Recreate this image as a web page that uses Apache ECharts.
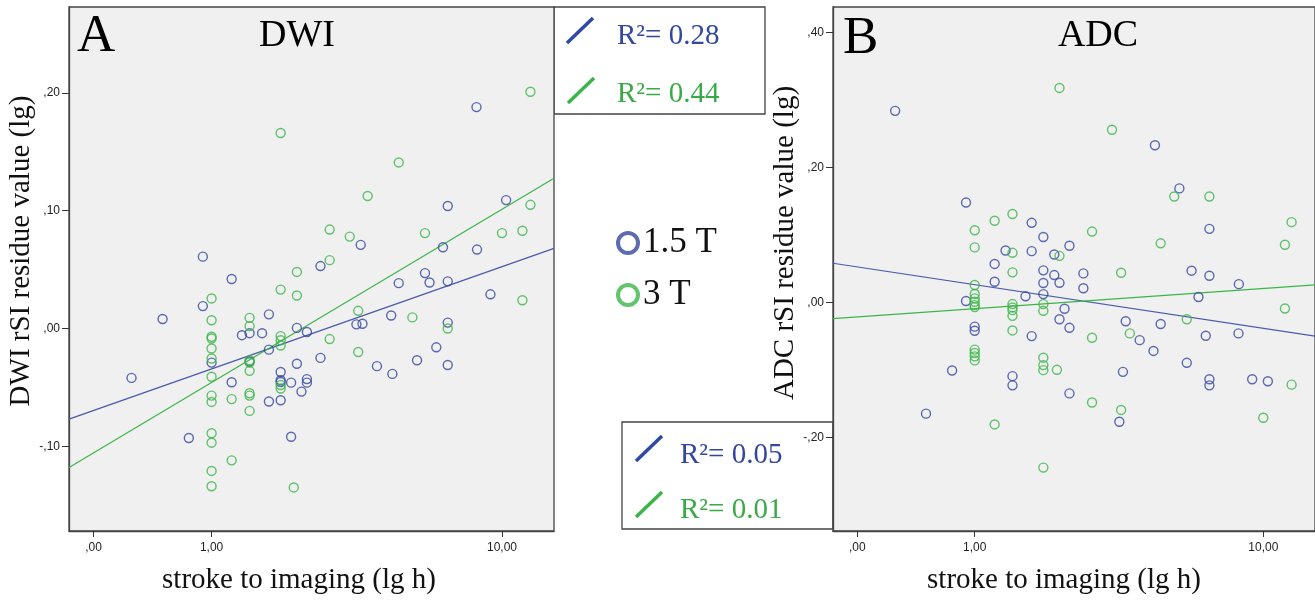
<!DOCTYPE html>
<html>
<head>
<meta charset="utf-8">
<title>DWI / ADC rSI residue vs stroke to imaging</title>
<script src="https://cdn.jsdelivr.net/npm/echarts@6/dist/echarts.min.js"></script>
<style>
  html, body { margin: 0; padding: 0; background: #fff; }
  #chart { width: 1315px; height: 601px; }
</style>
</head>
<body>
<div id="chart"></div>
<script>
// [hours from stroke to imaging, rSI residue value (lg)]
const dwi15 = [
  [8.47, 0.188], [10.27, 0.109], [7, 0.104], [3.8, 0.071], [6.78, 0.069], [8.5, 0.067],
  [0.9, 0.061], [2.79, 0.053], [1.25, 0.042], [6, 0.047], [6.19, 0.039], [7, 0.040],
  [5, 0.0385], [9.28, 0.029], [7, 0.005], [0.9, 0.019], [0.5, 0.008], [1.8, 0.012],
  [4.74, 0.011], [3.68, 0.0035], [3.85, 0.004], [2.3, 0.0005], [2.5, -0.003], [1.39, -0.0057],
  [1.5, -0.004], [1.69, -0.004], [1.8, -0.018], [1, -0.029], [1.5, -0.028], [2.79, -0.025],
  [2.3, -0.030], [6.48, -0.016], [5.68, -0.027], [4.28, -0.032], [4.78, -0.0386], [7, -0.031],
  [0.25, -0.042], [2, -0.037], [2, -0.044], [2, -0.0455], [2.5, -0.043], [2.5, -0.046],
  [2.19, -0.046], [1.25, -0.0457], [2.39, -0.0536], [1.8, -0.062], [2, -0.061], [0.75, -0.093],
  [2.19, -0.092]
];
const dwi3 = [
  [12, 0.201], [2, 0.166], [5, 0.141], [4, 0.1125], [12, 0.105], [3, 0.084], [3.5, 0.078],
  [6, 0.081], [10, 0.081], [11.4, 0.083], [3, 0.058], [2.3, 0.048], [2, 0.033], [2.3, 0.028],
  [1, 0.0255], [11.4, 0.024], [3.73, 0.015], [5.5, 0.0094], [1, 0.007], [1.5, 0.009],
  [1.5, 0.002], [7, 0.0], [1, -0.007], [1, -0.0085], [2, -0.0065], [2, -0.010], [2, -0.0145],
  [3, -0.009], [1, -0.017], [1, -0.0255], [1.5, -0.027], [1.5, -0.029], [3.73, -0.020],
  [1.5, -0.036], [1, -0.041], [2, -0.048], [2, -0.051], [1, -0.057], [1, -0.0624], [1.25, -0.060],
  [1.5, -0.055], [1.5, -0.057], [1.5, -0.070], [1, -0.089], [1, -0.097], [1.25, -0.112],
  [1, -0.121], [1, -0.134], [2.24, -0.135]
];
const adc15 = [
  [0.25, 0.284], [4.8, 0.233], [5.7, 0.169], [0.9, 0.148], [1.8, 0.118], [7, 0.109], [2, 0.097],
  [2.5, 0.084], [1.4, 0.077], [1.8, 0.076], [2.2, 0.071], [1.25, 0.057], [2, 0.0475], [2.2, 0.0405],
  [2.8, 0.043], [6.2, 0.047], [7, 0.0395], [1.25, 0.0306], [2, 0.0287], [2.3, 0.029], [2.8, 0.021],
  [8.52, 0.027], [1.7, 0.009], [2, 0.0123], [6.5, 0.008], [0.9, 0.002], [2.4, -0.0095], [1, -0.036],
  [1, -0.042], [2.3, -0.025], [2.5, -0.0377], [3.88, -0.028], [5, -0.032], [1.8, -0.050],
  [6.83, -0.0495], [8.5, -0.046], [4.3, -0.056], [4.75, -0.072], [6, -0.0896], [0.75, -0.101],
  [3.8, -0.103], [1.5, -0.1094], [1.5, -0.123], [7, -0.114], [7, -0.123], [9.3, -0.114],
  [10.3, -0.117], [2.5, -0.135], [0.5, -0.165], [3.7, -0.177]
];
const adc3 = [
  [2.3, 0.318], [3.5, 0.256], [5.5, 0.157], [7, 0.157], [12, 0.119], [11.5, 0.0855], [1.5, 0.131],
  [1.25, 0.121], [1, 0.107], [3, 0.105], [1, 0.0815], [1.5, 0.0735], [2.3, 0.069], [5, 0.0876],
  [1.5, 0.0445], [3.75, 0.044], [1, 0.0257], [1, 0.0125], [1, 0.006], [1, 0.001], [1, -0.004],
  [1, -0.007], [1.5, -0.0025], [1.5, -0.0075], [1.5, -0.0115], [1.5, -0.020], [2, -0.0025],
  [2, -0.0125], [11.5, -0.009], [6, -0.025], [1.5, -0.0416], [4, -0.046], [3, -0.0525],
  [1, -0.070], [1, -0.075], [1, -0.080], [1, -0.086], [2, -0.082], [2, -0.093], [2, -0.1005],
  [2.25, -0.100], [12, -0.122], [3, -0.1485], [3.75, -0.1595], [1.25, -0.181], [10, -0.171],
  [2, -0.245]
];

// fitted lines: value at left and right end of the x axis
const fitDwi15 = [-0.077, 0.068];
const fitDwi3 = [-0.118, 0.1275];
const fitAdc15 = [0.058, -0.050];
const fitAdc3 = [-0.024, 0.026];

const r2Dwi = ['R²= 0.28', 'R²= 0.44'];
const r2Adc = ['R²= 0.05', 'R²= 0.01'];

const xTicksHours = [0, 1, 10];
const yTicksDwi = [-0.1, 0, 0.1, 0.2];
const yTicksAdc = [-0.2, 0, 0.2, 0.4];

// SPSS "safe log" scale
const slog = h => Math.log10(1 + h);
const xMin = -0.0625, xMax = 1.174;

const BLUE = '#34469e';
const GREEN = '#3bb548';
const SERIF = 'Liberation Serif';

const spss = v => {
  const s = Math.abs(v).toFixed(2).replace('.', ',').replace(/^0,/, ',');
  return (v < -1e-9 ? '-' : '') + s;
};

const chart = echarts.init(document.getElementById('chart'));

const mkX = (idx, padRight) => ({
  type: 'value', gridIndex: idx, min: xMin, max: xMax,
  name: 'stroke to imaging (lg h)', nameLocation: 'middle', nameGap: 35,
  nameTextStyle: { fontFamily: SERIF, fontSize: 29, color: '#111', padding: [0, padRight, 0, 0] },
  axisLine: { onZero: false, lineStyle: { color: '#444', width: 1.3 } },
  axisTick: { customValues: xTicksHours.map(slog), length: 6, lineStyle: { color: '#333' } },
  axisLabel: {
    customValues: xTicksHours.map(slog), margin: 11,
    fontFamily: 'Liberation Sans', fontSize: 12, color: '#222',
    formatter: v => spss(Math.round((Math.pow(10, v) - 1) * 100) / 100)
  },
  splitLine: { show: false }
});

const mkY = (idx, min, max, ticks, name, padLeft) => ({
  type: 'value', gridIndex: idx, min: min, max: max,
  name: name, nameLocation: 'middle', nameGap: 28,
  nameTextStyle: { fontFamily: SERIF, fontSize: 29, color: '#111', padding: [0, 0, 0, padLeft] },
  axisLine: { show: true, onZero: false, lineStyle: { color: '#444', width: 1.3 } },
  axisTick: { show: true, customValues: ticks, length: 7, lineStyle: { color: '#333' } },
  axisLabel: {
    customValues: ticks, margin: 9,
    fontFamily: 'Liberation Sans', fontSize: 12, color: '#222',
    formatter: v => spss(v)
  },
  splitLine: { show: false }
});

const scatter = (name, idx, pts, color) => ({
  name: name, type: 'scatter', xAxisIndex: idx, yAxisIndex: idx,
  symbol: 'circle', symbolSize: 9, z: 3,
  itemStyle: { color: 'transparent', borderColor: color, borderWidth: 1.4 },
  data: pts.map(([h, v]) => [slog(h), v])
});

const fitLine = (name, idx, ends, color) => ({
  name: name, type: 'line', xAxisIndex: idx, yAxisIndex: idx,
  symbol: 'none', silent: true, z: 2,
  lineStyle: { color: color, width: 1.2 },
  data: [[xMin, ends[0]], [xMax, ends[1]]]
});

const slash = (x, y, color) => ({
  type: 'line', z: 5,
  shape: { x1: x, y1: y + 25, x2: x + 26, y2: y },
  style: { stroke: color, lineWidth: 3.5 }
});
const txt = (x, y, text, size, color, align) => ({
  type: 'text', x: x, y: y, z: 5,
  style: { text: text, fontFamily: SERIF, fontSize: size, fill: color,
           align: align || 'left', verticalAlign: 'middle' }
});

chart.setOption({
  animation: false,
  grid: [
    { left: 69, top: 7, width: 485, height: 524, show: true, backgroundColor: '#f0f0f0',
      borderColor: '#444', borderWidth: 1.3 },
    { left: 833, top: 7, width: 484, height: 524, show: true, backgroundColor: '#f0f0f0',
      borderColor: '#444', borderWidth: 1.3 }
  ],
  xAxis: [mkX(0, 25), mkX(1, 20)],
  yAxis: [
    mkY(0, -0.172, 0.273, yTicksDwi, 'DWI rSI residue value (lg)', 36),
    mkY(1, -0.339, 0.438, yTicksAdc, 'ADC rSI residue value (lg)', 52)
  ],
  legend: {
    left: 611, top: 220, orient: 'vertical', selectedMode: false,
    itemWidth: 20, itemHeight: 20, itemGap: 16, icon: 'circle',
    textStyle: { fontFamily: SERIF, fontSize: 35, color: '#111', lineHeight: 36 },
    data: [
      { name: '1.5 T', itemStyle: { color: '#fff', borderColor: BLUE, borderWidth: 4 } },
      { name: '3 T', itemStyle: { color: '#fff', borderColor: GREEN, borderWidth: 4 } }
    ]
  },
  graphic: [
    txt(77, 37, 'A', 53, '#000'),
    txt(297, 36, 'DWI', 38, '#000', 'center'),
    txt(843, 39, 'B', 53, '#000'),
    txt(1098, 36, 'ADC', 38, '#000', 'center'),
    { type: 'rect', z: -1, shape: { x: 554, y: 7, width: 211, height: 107 },
      style: { fill: '#fff', stroke: '#444', lineWidth: 1.3 } },
    slash(567, 18, '#2f48a8'),
    txt(617, 36, r2Dwi[0], 29, '#33479e'),
    slash(568, 78, GREEN),
    txt(617, 94, r2Dwi[1], 29, '#3aaa47'),
    { type: 'rect', z: -1, shape: { x: 622, y: 422, width: 211, height: 107 },
      style: { fill: '#fff', stroke: '#444', lineWidth: 1.3 } },
    slash(636, 436, '#2f48a8'),
    txt(680, 455, r2Adc[0], 29, '#33479e'),
    slash(636, 492, GREEN),
    txt(680, 510, r2Adc[1], 29, '#3aaa47')
  ],
  series: [
    fitLine('fit DWI 1.5 T', 0, fitDwi15, '#4a5aaa'),
    fitLine('fit DWI 3 T', 0, fitDwi3, GREEN),
    scatter('1.5 T', 0, dwi15, BLUE),
    scatter('3 T', 0, dwi3, GREEN),
    fitLine('fit ADC 1.5 T', 1, fitAdc15, '#4a5aaa'),
    fitLine('fit ADC 3 T', 1, fitAdc3, GREEN),
    scatter('1.5 T', 1, adc15, BLUE),
    scatter('3 T', 1, adc3, GREEN)
  ]
});
</script>
</body>
</html>
